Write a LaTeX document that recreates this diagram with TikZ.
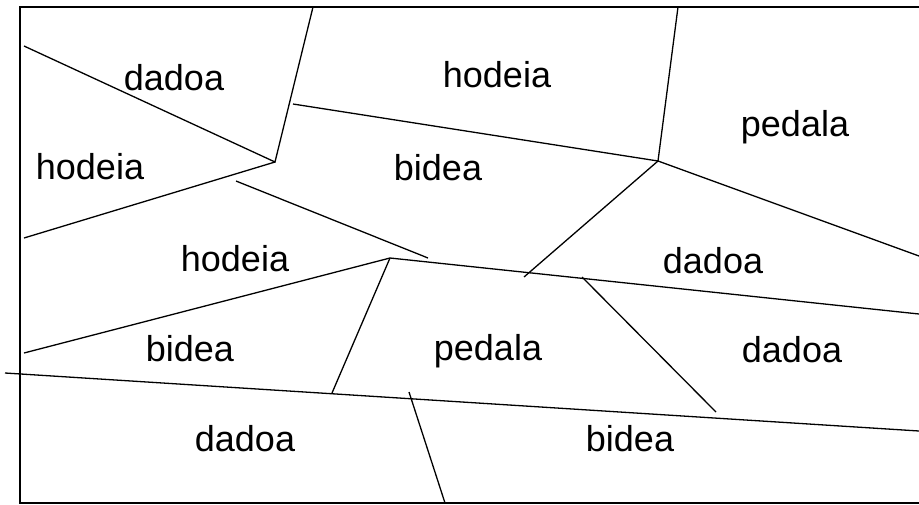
\documentclass[tikz,border=0pt]{standalone}
\usepackage{fontspec}
\setmainfont{Liberation Sans}
\usepackage{tikz}

\begin{document}
\begin{tikzpicture}[x=1pt,y=-1pt,line width=1.3pt]
	\tikzset{lbl/.style={font=\fontsize{36}{42}\selectfont,inner sep=0pt}}
	\useasboundingbox (0,0) rectangle (919,504);
	\draw[line width=2pt] (919,7) -- (20,7) -- (20,503) -- (919,503);
	
	% junctions
	\coordinate (ja) at (275,162);
	\coordinate (jb) at (658,161);
	\coordinate (jc) at (390,258);
	
	\draw (24,46) -- (ja) -- (313,7);
	\draw (ja) -- (24,238);
	\draw (293,104) -- (jb) -- (678,7);
	\draw (jb) -- (919,256);
	\draw (jb) -- (524,277);
	\draw (236,181) -- (428,258);
	\draw (24,353) -- (jc) -- (919,314);
	\draw (jc) -- (332,393);
	\draw (5,373) -- (919,431);
	\draw (409,392) -- (445,503);
	\draw (582,277) -- (716,412);
	
	\node[lbl] (dadoa1) at (174,78) {dadoa};
	\node[lbl] (hodeia1) at (90,167) {hodeia};
	\node[lbl] (hodeia2) at (497,75) {hodeia};
	\node[lbl] (pedala1) at (795,127) {pedala};
	\node[lbl] (bidea1) at (438,168) {bidea};
	\node[lbl] (hodeia3) at (235,259) {hodeia};
	\node[lbl] (dadoa2) at (713,261) {dadoa};
	\node[lbl] (bidea2) at (190,349) {bidea};
	\node[lbl] (pedala2) at (488,351) {pedala};
	\node[lbl] (dadoa3) at (792,350) {dadoa};
	\node[lbl] (dadoa4) at (245,439) {dadoa};
	\node[lbl] (bidea3) at (630,439) {bidea};
\end{tikzpicture}
\end{document}
